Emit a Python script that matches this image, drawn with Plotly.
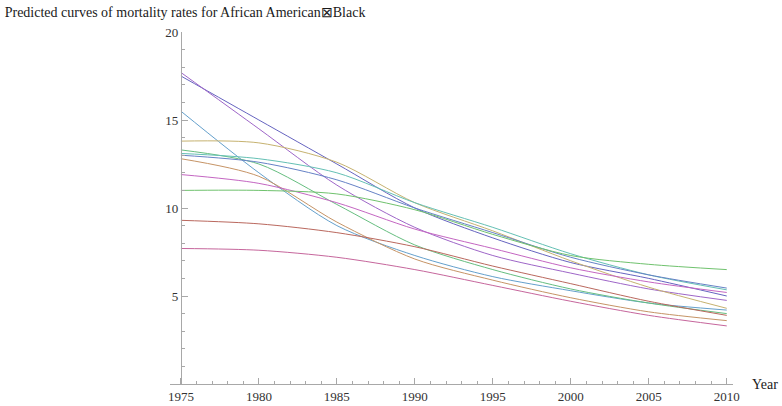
import plotly.graph_objects as go

# values at 5-year steps
years = [1975, 1980, 1985, 1990, 1995, 2000, 2005, 2010]

blue_purple = [17.5, 15.0, 12.5, 10.0, 8.3, 6.9, 6.0, 5.0]
violet = [17.7, 14.5, 11.3, 8.9, 7.3, 6.3, 5.4, 4.75]
light_blue = [15.5, 12.0, 9.0, 7.3, 6.1, 5.3, 4.6, 4.2]
tan = [13.8, 13.7, 12.6, 10.3, 8.7, 7.0, 5.5, 4.3]
green_a = [13.3, 12.5, 10.2, 7.9, 6.5, 5.4, 4.6, 4.0]
teal = [13.1, 12.8, 12.0, 10.3, 8.9, 7.4, 6.2, 5.35]
blue = [13.0, 12.6, 11.6, 10.0, 8.6, 7.2, 6.2, 5.45]
orange = [12.8, 11.8, 9.2, 7.1, 5.9, 4.9, 4.1, 3.6]
magenta = [11.9, 11.4, 10.3, 8.8, 7.7, 6.6, 5.8, 5.2]
green_b = [11.0, 11.0, 10.8, 9.9, 8.5, 7.3, 6.8, 6.5]
red_brown = [9.3, 9.1, 8.6, 7.8, 6.7, 5.7, 4.7, 3.9]
rose = [7.7, 7.6, 7.2, 6.5, 5.6, 4.7, 3.9, 3.3]

curves = [
    (blue_purple, "#6664c0"),
    (violet, "#9e66c8"),
    (light_blue, "#64a0cc"),
    (tan, "#c6b270"),
    (green_a, "#66be80"),
    (teal, "#64c0b4"),
    (blue, "#6682c6"),
    (orange, "#c69466"),
    (magenta, "#c466c2"),
    (green_b, "#70c26e"),
    (red_brown, "#ba685e"),
    (rose, "#c6669c"),
]

fig = go.Figure()
for vals, col in curves:
    fig.add_trace(go.Scatter(x=years, y=vals, mode="lines",
                             line=dict(color=col, width=1.0, shape="spline", smoothing=0.8),
                             showlegend=False, hoverinfo="skip"))

serif = "Liberation Serif, Times New Roman, serif"
axis_col = "#a8a8a8"
x0, x1 = 1974.3, 2010.4

fig.update_layout(
    width=782, height=406,
    margin=dict(l=170, r=49, t=32, b=22),
    paper_bgcolor="white", plot_bgcolor="white",
    font=dict(family=serif, size=13, color="#333333"),
    title=dict(text="Predicted curves of mortality rates for African American⊠Black",
               x=0.006, xanchor="left", y=0.97, yanchor="middle",
               font=dict(family=serif, size=14, color="#1a1a1a")),
    xaxis=dict(range=[x0, x1], showgrid=False, zeroline=False, automargin=False,
               showline=True, linecolor=axis_col, linewidth=1,
               tickmode="array", tickvals=[1975, 1980, 1985, 1990, 1995, 2000, 2005, 2010],
               ticks="inside", ticklen=6, tickcolor=axis_col,
               minor=dict(ticks="inside", ticklen=3, tickcolor=axis_col, dtick=1, tick0=1975),
               tickfont=dict(family=serif, size=13, color="#333333")),
    yaxis=dict(range=[0, 20], showgrid=False, zeroline=False, automargin=False,
               anchor="free", position=(1975 - x0) / (x1 - x0),
               showline=True, linecolor=axis_col, linewidth=1,
               tickmode="array", tickvals=[5, 10, 15, 20],
               ticks="inside", ticklen=6, tickcolor=axis_col,
               minor=dict(ticks="inside", ticklen=3, tickcolor=axis_col, dtick=1, tick0=0),
               tickfont=dict(family=serif, size=13, color="#333333")),
    annotations=[dict(text="Year", xref="paper", yref="paper", x=1.03, y=0.0,
                      xanchor="left", yanchor="middle", showarrow=False,
                      font=dict(family=serif, size=14, color="#1a1a1a"))],
)

# drop the default body margin so the figure sits at the window's corner
fig.write_html("out.html", config={"displayModeBar": False},
               post_script="document.body.style.margin='0';")
